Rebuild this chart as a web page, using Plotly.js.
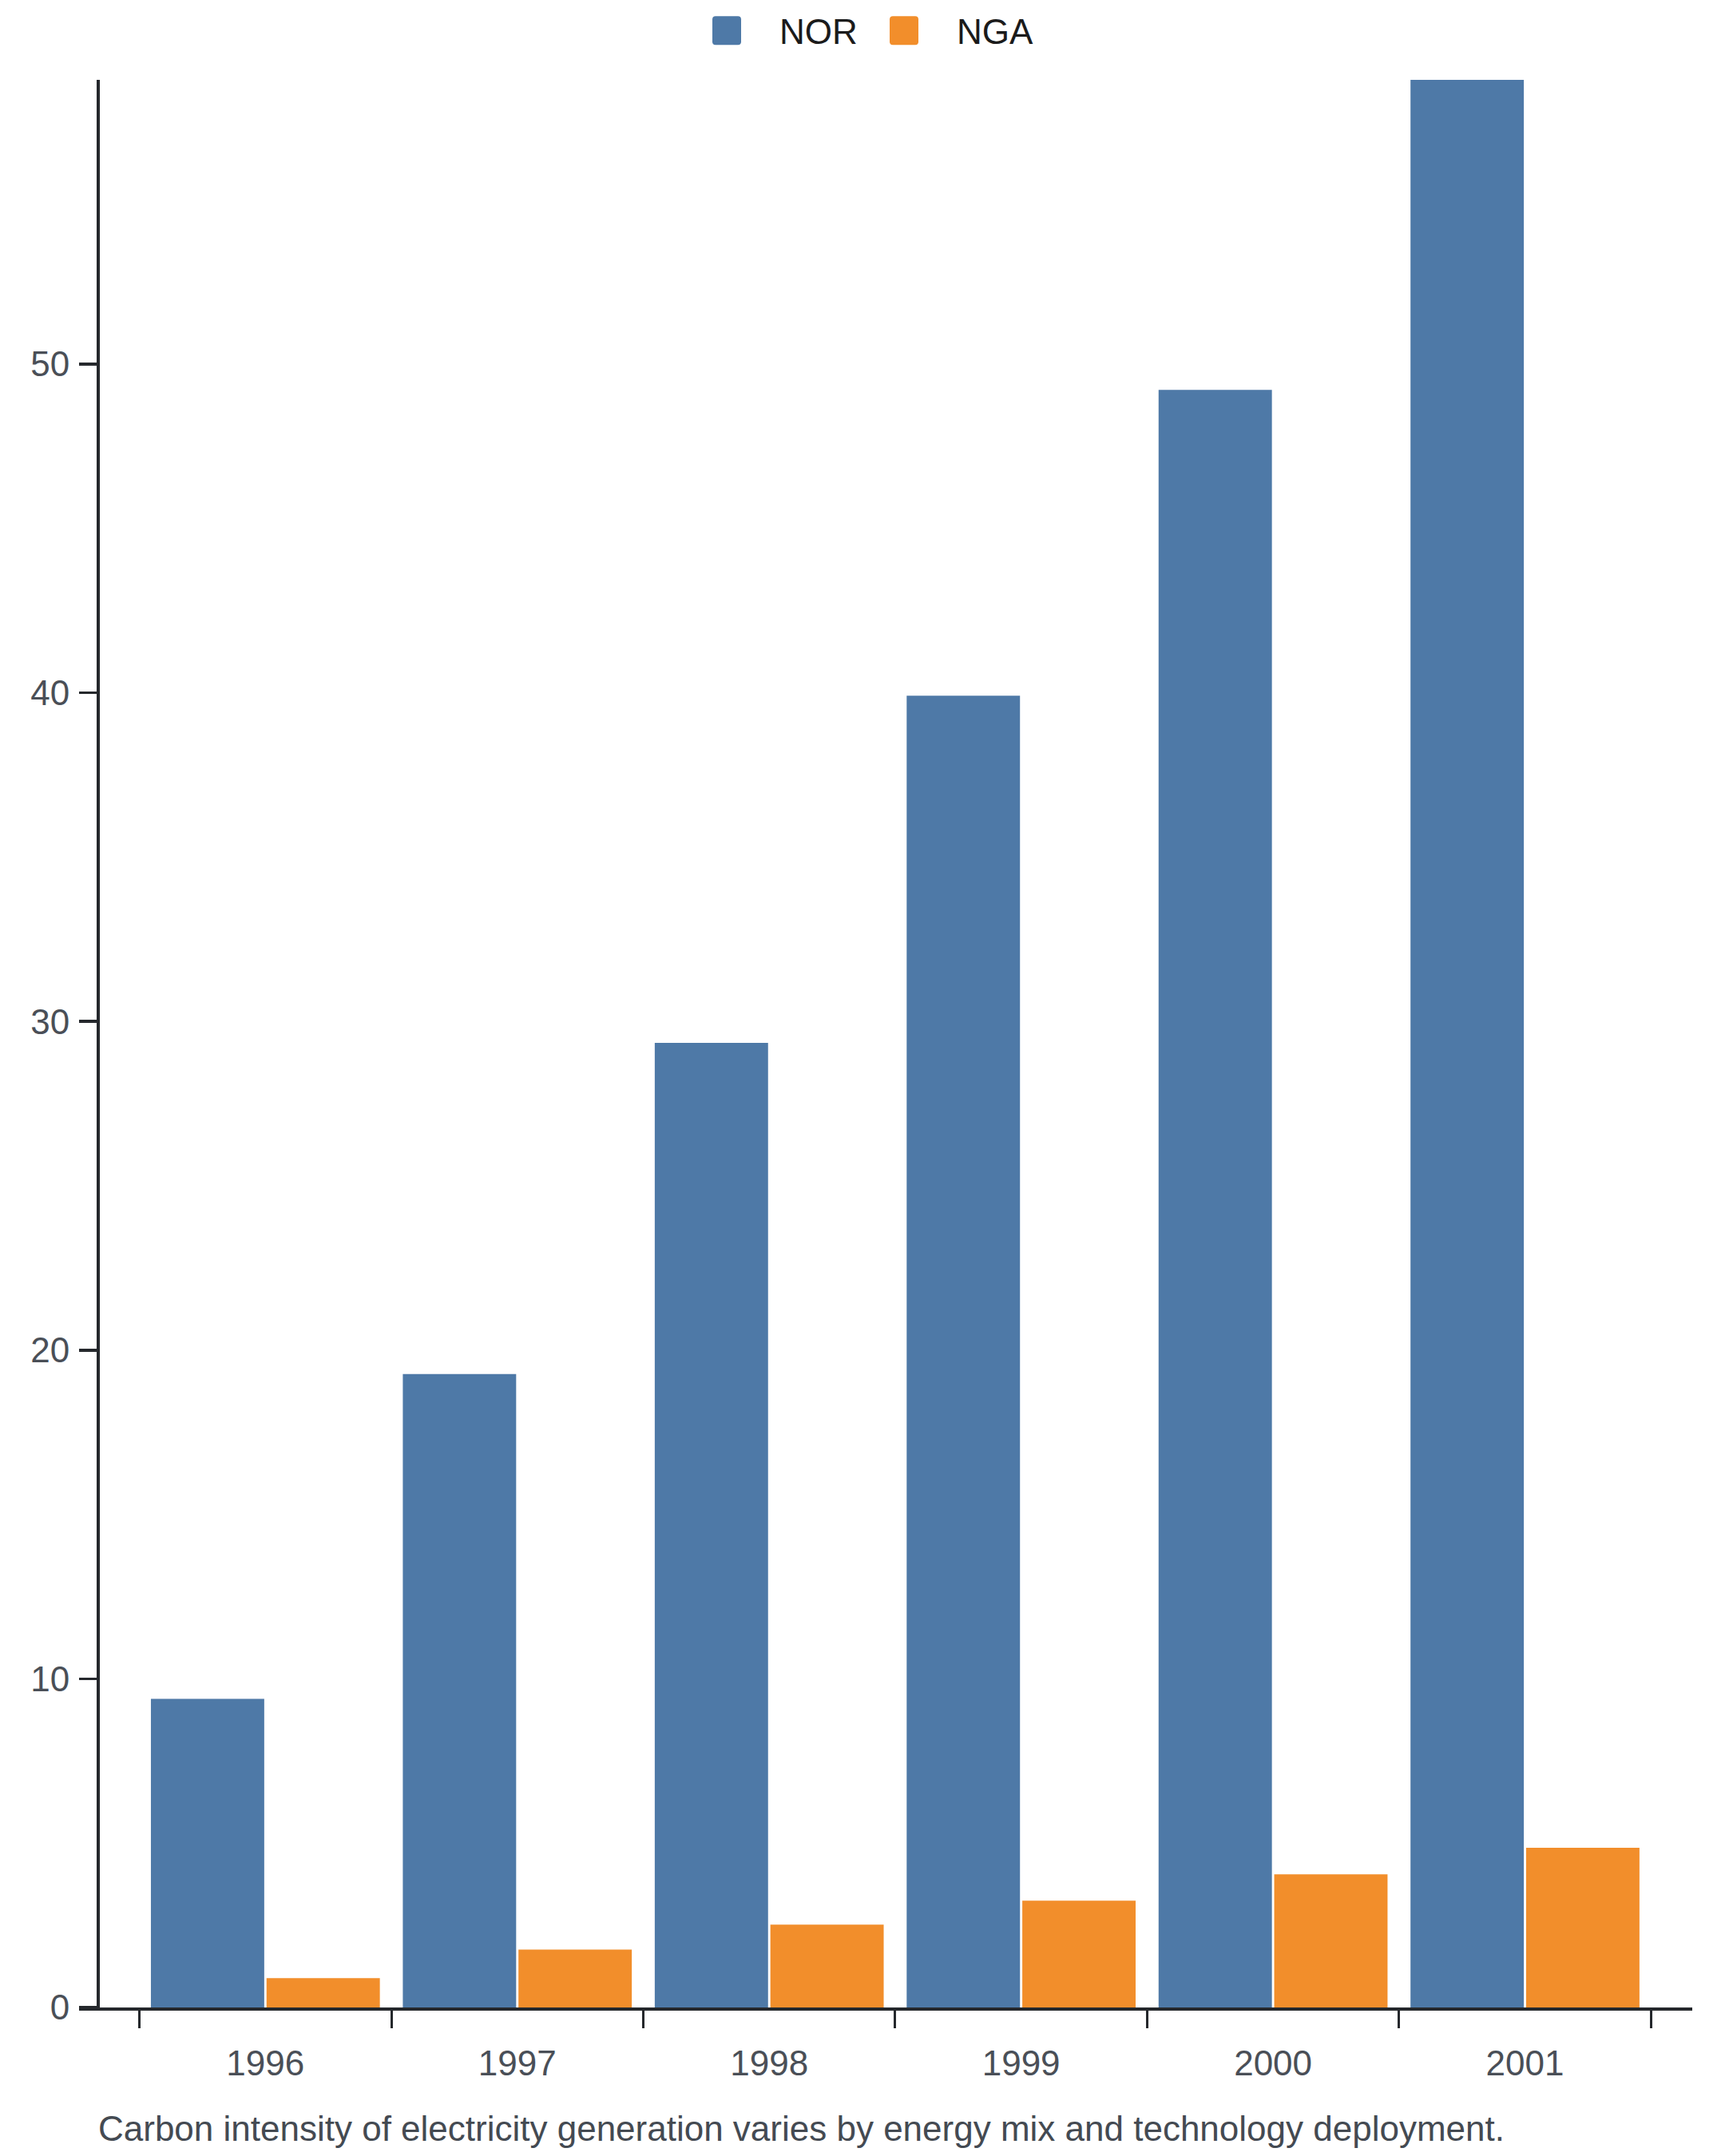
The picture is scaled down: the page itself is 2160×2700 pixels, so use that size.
<!DOCTYPE html>
<html><head><meta charset="utf-8">
<script src="https://cdn.plot.ly/plotly-3.0.1.min.js"></script>
<style>html,body{margin:0;padding:0;background:#fff;} #chart{width:2160px;height:2700px;}</style>
</head><body><div id="chart"></div>
<script>
// ---- data ----
const years = ['1996', '1997', '1998', '1999', '2000', '2001'];
const seriesNames = ['NOR', 'NGA'];
const norValues = [9.39, 19.27, 29.35, 39.91, 49.22, 58.65];
const ngaValues = [0.89, 1.76, 2.52, 3.25, 4.05, 4.86];
const yTickValues = [0, 10, 20, 30, 40, 50];
const captionText = 'Carbon intensity of electricity generation varies by energy mix and technology deployment.';

// ---- style ----
const seriesColors = ['#4e79a7', '#f28e2b'];
const FONT = 'Liberation Sans, Arial, Helvetica, sans-serif';
const FS = 44;
const AXIS_COLOR = '#25282c';
const LABEL_COLOR = '#4a4f57';
const W = 2160, H = 2700;
const M = {l: 99, r: 41, t: 100, b: 186, autoexpand: false};
const plotW = W - M.l - M.r, plotH = H - M.t - M.b;
const px2x = px => (px - M.l) / plotW;
const py2y = py => (H - M.b - py) / plotH;

const data = [
  {type: 'bar', name: seriesNames[0], x: years, y: norValues,
   marker: {color: seriesColors[0], line: {width: 0}}},
  {type: 'bar', name: seriesNames[1], x: years, y: ngaValues,
   marker: {color: seriesColors[1], line: {width: 0}}}
];

const layout = {
  width: W, height: H,
  margin: M,
  paper_bgcolor: '#ffffff', plot_bgcolor: '#ffffff',
  font: {family: FONT, size: FS, color: LABEL_COLOR},
  barmode: 'group', bargap: 0.082, bargroupgap: 0.02,
  showlegend: true,
  legend: {orientation: 'h', x: px2x(936), xanchor: 'left', y: py2y(38.7), yanchor: 'middle',
           entrywidth: 177, entrywidthmode: 'pixels',
           font: {family: FONT, size: FS, color: '#1b1b1b'}, bgcolor: 'rgba(0,0,0,0)'},
  xaxis: {type: 'category', range: [-0.7396, 5.664], anchor: 'y',
          showline: true, linewidth: 4, linecolor: AXIS_COLOR,
          ticks: 'outside', tickson: 'boundaries', ticklen: 22, tickwidth: 3, tickcolor: AXIS_COLOR,
          ticklabelstandoff: 28,
          tickfont: {family: FONT, size: FS, color: LABEL_COLOR},
          showgrid: false, zeroline: false, fixedrange: true},
  yaxis: {anchor: 'free', position: px2x(123), range: [0, Math.max(...norValues)],
          showline: true, linewidth: 4, linecolor: AXIS_COLOR,
          ticks: 'outside', ticklen: 22, tickwidth: 3.5, tickcolor: AXIS_COLOR,
          ticklabelstandoff: 3,
          tickmode: 'array', tickvals: yTickValues, ticktext: yTickValues.map(String),
          tickfont: {family: FONT, size: FS, color: LABEL_COLOR},
          showgrid: false, zeroline: false, fixedrange: true},
  annotations: [{text: captionText, xref: 'paper', yref: 'paper',
                 x: px2x(121), y: py2y(2665), xanchor: 'left', yanchor: 'middle',
                 showarrow: false, font: {family: FONT, size: FS, color: '#444a52'}}]
};

Plotly.newPlot('chart', data, layout, {staticPlot: true, displayModeBar: false}).then(gd => {
  gd.querySelectorAll('.legend [clip-path]').forEach(e => e.removeAttribute('clip-path'));
  gd.querySelectorAll('.legend .legendpoints path').forEach(p => {
    p.setAttribute('d', 'M-14,-18H14A4,4 0 0 1 18,-14V14A4,4 0 0 1 14,18H-14A4,4 0 0 1 -18,14V-14A4,4 0 0 1 -14,-18Z');
    p.setAttribute('transform', 'translate(-26,0)');
  });
});
</script>
</body></html>
